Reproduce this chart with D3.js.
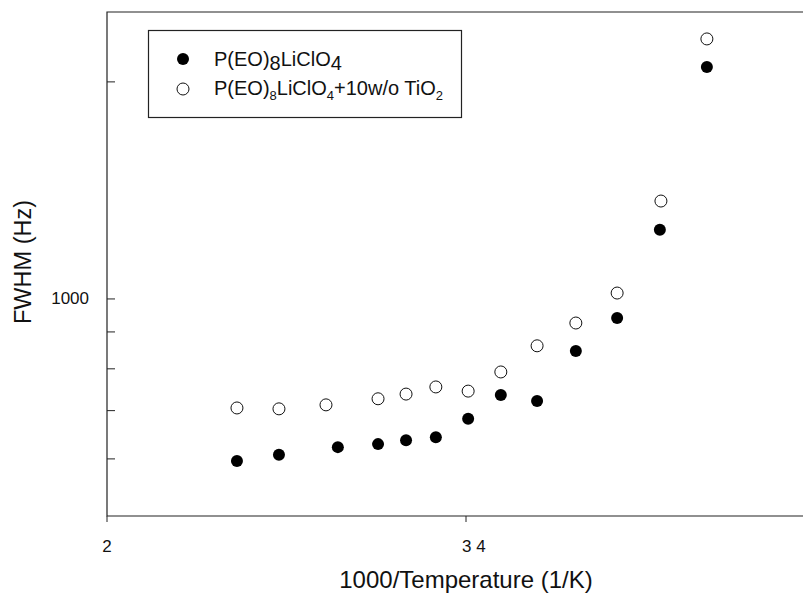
<!DOCTYPE html>
<html>
<head>
<meta charset="utf-8">
<script src="https://cdn.jsdelivr.net/npm/d3@7"></script>
<style>
  html, body { margin: 0; padding: 0; background: #fff; }
  svg { display: block; font-family: "Liberation Sans", Arial, sans-serif; }
</style>
</head>
<body>
<div id="vis"></div>
<script>
// FWHM vs 1000/T — two series, log y axis
const width = 803, height = 598;
const margin = { top: 12, right: 0, bottom: 82, left: 107 };

// x values (1000/T, 1/K)
const xPure   = [2.362, 2.479, 2.643, 2.755, 2.833, 2.916, 3.006, 3.097, 3.198, 3.306, 3.421, 3.540, 3.671];
const xFilled = [2.362, 2.479, 2.610, 2.755, 2.833, 2.916, 3.006, 3.097, 3.198, 3.306, 3.421, 3.543, 3.671];
// FWHM (Hz)
const fwhmPure   = [596, 608, 623, 629, 637, 643, 682, 736, 722, 847, 941, 1247, 2098];
const fwhmFilled = [706, 704, 713, 727, 738, 755, 745, 792, 861, 926, 1019, 1367, 2294];

const yMinorTicks = [600, 700, 800, 900, 2000];
const yMajorTicks = [1000];

const svg = d3.select("#vis").append("svg")
  .attr("width", width).attr("height", height);

const x = d3.scaleLinear().domain([2, 4]).range([margin.left, margin.left + 2 * 359]);
const y = d3.scaleLog().domain([500, 2500]).range([height - margin.bottom, margin.top]);

const ink = "#222";
const x0 = margin.left, y0 = height - margin.bottom;

// frame: left, top, bottom
svg.append("path")
  .attr("d", `M${width},${margin.top}H${x0}V${y0}H${width}`)
  .attr("fill", "none").attr("stroke", ink).attr("stroke-width", 1.2);

// y ticks (inside)
const gy = svg.append("g");
gy.selectAll("line").data(yMinorTicks.concat(yMajorTicks)).enter().append("line")
  .attr("x1", x0).attr("x2", x0 + 8)
  .attr("y1", d => y(d)).attr("y2", d => y(d))
  .attr("stroke", ink).attr("stroke-width", 1);
gy.selectAll("text").data(yMajorTicks).enter().append("text")
  .attr("x", 89).attr("y", d => y(d))
  .attr("text-anchor", "end").attr("dominant-baseline", "central")
  .attr("font-size", 17).attr("fill", "#111")
  .text(d => d);

// x ticks (outside)
const gx = svg.append("g");
gx.selectAll("line").data([2, 3]).enter().append("line")
  .attr("x1", d => x(d)).attr("x2", d => x(d))
  .attr("y1", y0).attr("y2", y0 + 6)
  .attr("stroke", ink).attr("stroke-width", 1);
gx.append("text")
  .attr("x", x(2)).attr("y", 552)
  .attr("text-anchor", "middle")
  .attr("font-size", 17).attr("fill", "#111").text("2");
gx.append("text")
  .attr("x", x(3) - 4).attr("y", 552)
  .attr("text-anchor", "start")
  .attr("font-size", 17).attr("fill", "#111").text("3 4");

// axis titles
svg.append("text")
  .attr("transform", `translate(31,262) rotate(-90)`)
  .attr("text-anchor", "middle")
  .attr("font-size", 23.5).attr("fill", "#111")
  .text("FWHM (Hz)");
svg.append("text")
  .attr("x", 466).attr("y", 588)
  .attr("text-anchor", "middle")
  .attr("font-size", 24).attr("fill", "#111")
  .text("1000/Temperature (1/K)");

// points
const r = 6;
svg.append("g").selectAll("circle")
  .data(d3.zip(xFilled, fwhmFilled)).enter().append("circle")
  .attr("cx", d => x(d[0])).attr("cy", d => y(d[1])).attr("r", r)
  .attr("fill", "#fff").attr("stroke", "#111").attr("stroke-width", 1);
svg.append("g").selectAll("circle")
  .data(d3.zip(xPure, fwhmPure)).enter().append("circle")
  .attr("cx", d => x(d[0])).attr("cy", d => y(d[1])).attr("r", r)
  .attr("fill", "#000");

// legend
const lg = svg.append("g");
lg.append("rect")
  .attr("x", 148.5).attr("y", 30.5).attr("width", 313).attr("height", 87)
  .attr("fill", "#fff").attr("stroke", ink).attr("stroke-width", 1.2);
lg.append("circle").attr("cx", 183).attr("cy", 59).attr("r", r).attr("fill", "#000");
lg.append("circle").attr("cx", 183).attr("cy", 89).attr("r", r)
  .attr("fill", "#fff").attr("stroke", "#111").attr("stroke-width", 1);

const t1 = lg.append("text").attr("x", 214).attr("y", 66)
  .attr("font-size", 20).attr("fill", "#111");
t1.append("tspan").text("P(EO)");
t1.append("tspan").attr("dy", 4).text("8");
t1.append("tspan").attr("dy", -4).text("LiClO");
t1.append("tspan").attr("dy", 4).text("4");

const t2 = lg.append("text").attr("x", 214).attr("y", 95)
  .attr("font-size", 20).attr("fill", "#111");
t2.append("tspan").text("P(EO)");
t2.append("tspan").attr("dy", 5).attr("font-size", 13).text("8");
t2.append("tspan").attr("dy", -5).text("LiClO");
t2.append("tspan").attr("dy", 5).attr("font-size", 13).text("4");
t2.append("tspan").attr("dy", -5).text("+10w/o TiO");
t2.append("tspan").attr("dy", 5).attr("font-size", 13).text("2");
</script>
</body>
</html>
